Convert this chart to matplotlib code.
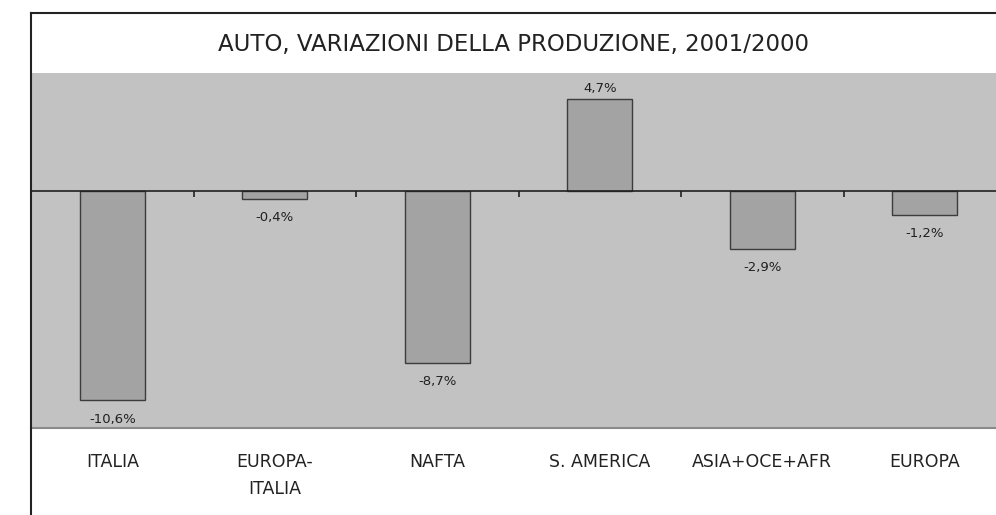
import numpy as np
import matplotlib.pyplot as plt
from matplotlib.lines import Line2D

# data
categories = ["ITALIA", "EUROPA-\nITALIA", "NAFTA", "S. AMERICA", "ASIA+OCE+AFR", "EUROPA"]
values = [-10.6, -0.4, -8.7, 4.7, -2.9, -1.2]
title = "AUTO, VARIAZIONI DELLA PRODUZIONE, 2001/2000"


def main():
    fig = plt.figure(figsize=(9.96, 5.15), dpi=100)
    W, H = 996, 515

    # plot area (extends slightly past the right edge like the source)
    left, right, top, bottom = 31, 1006, 73, 428
    ax = fig.add_axes([left / W, 1 - bottom / H, (right - left) / W, (bottom - top) / H])
    ax.set_facecolor("#c2c2c2")

    x = np.arange(len(categories))
    ax.bar(x, values, width=0.4, color="#a3a3a3", edgecolor="#3c3c3c", linewidth=1.0, zorder=2)

    ax.set_xlim(-0.5, len(categories) - 0.5)
    ax.set_ylim(-12, 6)

    # zero line with tick marks at category boundaries
    ax.axhline(0, color="#202020", linewidth=1.2, zorder=3)
    bounds = np.arange(len(categories)) - 0.5
    ax.plot(bounds, np.zeros_like(bounds), linestyle="none", marker=3,
            markersize=4, color="#202020", markeredgewidth=1.2, zorder=3, clip_on=False)

    # value labels
    for xi, v in zip(x, values):
        txt = ("%.1f" % v).replace(".", ",") + "%"
        off = 7 if v >= 0 else -13.5
        ax.annotate(txt, (xi, v), xytext=(0, off), textcoords="offset points",
                    ha="center", va="center", fontsize=9.5, color="#202020")

    ax.set_xticks(x)
    ax.set_xticklabels(categories, fontsize=12.5, color="#222222", linespacing=1.65)
    ax.tick_params(axis="x", length=0, pad=18)
    ax.set_yticks([])

    for side in ["top", "right", "left"]:
        ax.spines[side].set_visible(False)
    ax.spines["bottom"].set_color("#8a8a8a")
    ax.spines["bottom"].set_linewidth(1.5)

    # outer chart frame (left and top edges)
    fig.add_artist(Line2D([left / W, left / W], [0, 1 - 13 / H], color="#222222", linewidth=1.5))
    fig.add_artist(Line2D([left / W, 1], [1 - 13 / H, 1 - 13 / H], color="#222222", linewidth=1.5))

    fig.text((left + 996) / 2 / W, 1 - 45 / H, title, ha="center", va="center",
             fontsize=16.5, color="#222222")

    fig.savefig("out.png", dpi=100)
    plt.close(fig)


if __name__ == "__main__":
    main()
